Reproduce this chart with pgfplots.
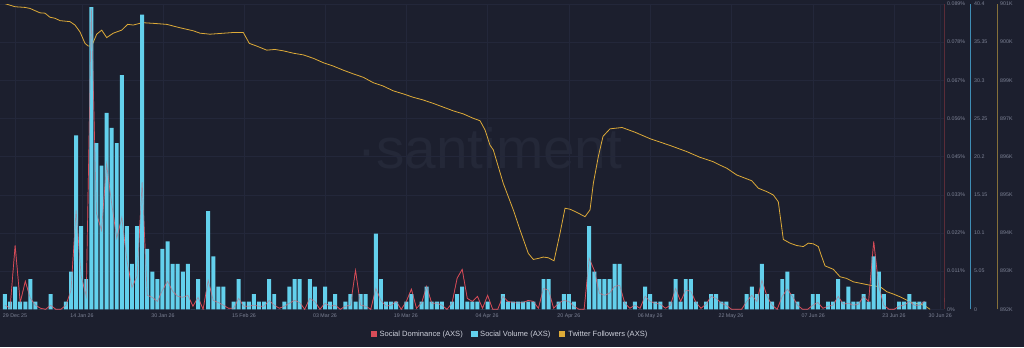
\documentclass[border=0pt]{standalone}
\usepackage{pgfplots}
\usepackage{pgfplotstable}
\pgfplotsset{compat=1.18}
\usepackage{fontspec}
\setmainfont{Liberation Sans}
\definecolor{bg}{HTML}{1C1F2E}
\definecolor{gridc}{HTML}{23273A}
\definecolor{volc}{HTML}{63D0EC}
\definecolor{domc}{HTML}{D84C58}
\definecolor{folc}{HTML}{DDAA38}
\definecolor{tickc}{HTML}{7D8295}
\definecolor{legc}{HTML}{CDD0DB}
\definecolor{wmc}{HTML}{242838}
\definecolor{domax}{HTML}{5A2C38}
\definecolor{volax}{HTML}{3F8DB5}
\definecolor{folax}{HTML}{85703A}
\newcommand{\tickfont}{\fontsize{5.3}{6}\selectfont}

\pgfplotstableread[row sep=\\]{x y\\
0 2\\1 1\\2 3\\3 1\\4 1\\5 4\\6 1\\7 0\\8 0\\9 2\\10 0\\11 0\\12 1\\13 5\\14 23\\15 11\\16 4\\17 40\\18 22\\19 19\\20 26\\21 24\\22 22\\23 31\\24 11\\25 6\\26 11\\27 39\\28 8\\29 5\\30 4\\31 8\\32 9\\33 6\\34 6\\35 5\\36 6\\37 0\\38 4\\39 0\\40 13\\41 7\\42 3\\43 3\\44 0\\45 1\\46 4\\47 1\\48 1\\49 2\\50 1\\51 1\\52 4\\53 2\\54 0\\55 1\\56 3\\57 4\\58 4\\59 0\\60 4\\61 3\\62 0\\63 3\\64 1\\65 2\\66 0\\67 1\\68 2\\69 1\\70 2\\71 2\\72 0\\73 10\\74 4\\75 1\\76 1\\77 1\\78 0\\79 1\\80 2\\81 0\\82 1\\83 3\\84 1\\85 1\\86 1\\87 0\\88 1\\89 2\\90 3\\91 1\\92 1\\93 1\\94 0\\95 1\\96 0\\97 0\\98 2\\99 1\\100 1\\101 1\\102 1\\103 1\\104 1\\105 0\\106 4\\107 4\\108 0\\109 1\\110 2\\111 2\\112 1\\113 0\\114 0\\115 11\\116 5\\117 4\\118 4\\119 4\\120 6\\121 6\\122 1\\123 0\\124 1\\125 0\\126 3\\127 2\\128 1\\129 1\\130 0\\131 1\\132 4\\133 1\\134 4\\135 4\\136 1\\137 0\\138 1\\139 2\\140 2\\141 1\\142 1\\143 0\\144 0\\145 0\\146 2\\147 3\\148 2\\149 6\\150 2\\151 1\\152 0\\153 4\\154 5\\155 2\\156 1\\157 0\\158 0\\159 2\\160 2\\161 0\\162 1\\163 1\\164 4\\165 1\\166 3\\167 1\\168 1\\169 2\\170 1\\171 7\\172 5\\173 2\\174 0\\175 0\\176 1\\177 1\\178 2\\179 1\\180 1\\181 1\\
}\voldata

\pgfplotstableread[row sep=\\]{x y\\
0 0.0012\\1 0.0003\\2 0.0187\\3 0.0020\\4 0.0082\\5 0.0032\\6 0.0012\\7 0.0003\\8 0\\9 0.0012\\10 0\\11 0\\12 0.0012\\13 0.0056\\14 0.0290\\15 0.0097\\16 0.0038\\17 0.0881\\18 0.0281\\19 0.0231\\20 0.0425\\21 0.0310\\22 0.0208\\23 0.0269\\24 0.0143\\25 0.0064\\26 0.0097\\27 0.0372\\28 0.0041\\29 0.0035\\30 0.0023\\31 0.0056\\32 0.0082\\33 0.0053\\34 0.0038\\35 0.0035\\36 0.0041\\37 0.0009\\38 0.0035\\39 0\\40 0.0085\\41 0.0026\\42 0.0020\\43 0.0012\\44 0.0003\\45 0.0003\\46 0.0032\\47 0.0009\\48 0.0009\\49 0.0012\\50 0.0009\\51 0.0009\\52 0.0026\\53 0.0012\\54 0.0003\\55 0.0009\\56 0.0018\\57 0.0026\\58 0.0020\\59 0\\60 0.0032\\61 0.0023\\62 0\\63 0.0018\\64 0.0009\\65 0.0012\\66 0\\67 0.0009\\68 0.0012\\69 0.0114\\70 0.0012\\71 0.0009\\72 0\\73 0.0061\\74 0.0026\\75 0.0009\\76 0.0012\\77 0.0023\\78 0\\79 0.0023\\80 0.0059\\81 0.0003\\82 0.0018\\83 0.0067\\84 0.0018\\85 0.0018\\86 0.0012\\87 0\\88 0.0018\\89 0.0091\\90 0.0117\\91 0.0032\\92 0.0023\\93 0.0038\\94 0.0003\\95 0.0041\\96 0\\97 0\\98 0.0038\\99 0.0023\\100 0.0020\\101 0.0018\\102 0.0020\\103 0.0026\\104 0.0023\\105 0.0003\\106 0.0061\\107 0.0056\\108 0.0003\\109 0.0018\\110 0.0026\\111 0.0023\\112 0.0009\\113 0\\114 0\\115 0.0149\\116 0.0114\\117 0.0047\\118 0.0041\\119 0.0047\\120 0.0067\\121 0.0070\\122 0.0018\\123 0.0003\\124 0.0012\\125 0.0003\\126 0.0038\\127 0.0023\\128 0.0018\\129 0.0015\\130 0.0003\\131 0.0012\\132 0.0061\\133 0.0023\\134 0.0056\\135 0.0053\\136 0.0020\\137 0.0003\\138 0.0015\\139 0.0038\\140 0.0032\\141 0.0018\\142 0.0012\\143 0\\144 0\\145 0\\146 0.0023\\147 0.0041\\148 0.0023\\149 0.0085\\150 0.0038\\151 0.0012\\152 0\\153 0.0038\\154 0.0059\\155 0.0038\\156 0.0012\\157 0\\158 0\\159 0.0012\\160 0.0020\\161 0.0003\\162 0.0009\\163 0.0012\\164 0.0038\\165 0.0015\\166 0.0018\\167 0.0012\\168 0.0015\\169 0.0038\\170 0.0023\\171 0.0199\\172 0.0067\\173 0.0012\\174 0\\175 0\\176 0.0009\\177 0.0012\\178 0.0023\\179 0.0012\\180 0.0012\\181 0.0023\\
}\domdata

\pgfplotstableread[row sep=\\]{x y\\
-0.2 901.02\\1.97 900.92\\3.94 900.90\\4.92 900.87\\6.89 900.74\\7.87 900.73\\8.86 900.61\\9.84 900.58\\10.83 900.51\\12.80 900.48\\13.78 900.38\\14.76 900.18\\15.75 899.84\\16.40 899.76\\17.07 899.76\\18.05 900.11\\19.04 900.23\\20.02 900.01\\21.32 900.14\\22.97 900.23\\24.15 900.40\\25.26 900.38\\27.03 900.45\\29.19 900.43\\31.83 900.40\\34.45 900.30\\37.07 900.21\\38.39 900.14\\40.35 900.11\\44.94 900.16\\46.91 900.16\\48.09 899.84\\49.55 899.76\\51.52 899.64\\53.15 899.66\\54.78 899.62\\56.75 899.55\\58.72 899.50\\60.69 899.40\\62.66 899.27\\64.63 899.17\\66.59 899.05\\68.56 898.94\\70.53 898.84\\72.50 898.68\\74.47 898.58\\76.44 898.44\\78.41 898.35\\80.37 898.25\\82.34 898.17\\84.31 898.07\\86.28 897.96\\88.25 897.85\\90.22 897.76\\92.19 897.63\\93.50 897.56\\94.49 897.29\\95.47 896.84\\96.12 896.70\\98.09 895.71\\100.06 894.93\\101.38 894.34\\103.01 893.65\\104.00 893.47\\104.98 893.50\\105.96 893.54\\106.95 893.52\\108.07 893.43\\109.25 894.24\\110.24 894.98\\111.22 894.95\\112.54 894.86\\114.17 894.73\\115.16 894.93\\115.81 895.71\\116.79 896.50\\117.72 897.10\\119.09 897.32\\121.46 897.36\\124.02 897.22\\126.97 897.03\\130.91 896.83\\134.19 896.65\\136.81 896.48\\139.43 896.35\\140.75 896.25\\142.07 896.16\\144.04 895.96\\146.99 895.79\\148.29 895.57\\149.94 895.47\\151.24 895.37\\152.22 895.17\\152.70 894.63\\153.21 894.06\\154.53 893.95\\155.85 893.88\\157.15 893.85\\158.13 893.95\\159.11 893.93\\160.10 893.85\\160.77 893.55\\161.42 893.28\\163.05 893.18\\164.37 892.96\\165.69 892.91\\166.99 892.81\\168.96 892.75\\170.93 892.69\\172.24 892.67\\173.56 892.52\\174.86 892.45\\176.18 892.37\\177.50 892.27\\178.80 892.18\\180.12 892.16\\181.10 892.10\\182.09 892.00\\
}\foldata

\begin{document}
\begin{tikzpicture}[x=1bp,y=1bp]
\fill[bg] (0,-37.7) rectangle (1024,309.3);
\node[anchor=base west, text=wmc, font=\fontsize{57}{57}\selectfont, inner sep=0] at (357,141.3) {·santiment};
\pgfplotsset{
  base/.style={at={(0bp,0bp)}, anchor=south west, width=944bp, height=305.3bp, scale only axis, xmin=-0.98, xmax=184.84},
  scl/.style={anchor=south west, width=1bp, height=305.3bp, scale only axis, xmin=0, xmax=1,
    axis x line=none, axis y line=right, major tick length=0pt, scaled y ticks=false,
    every outer y axis line/.append style={-}, every inner y axis line/.append style={-},
    yticklabel style={font=\tickfont, text=tickc, anchor=west, inner sep=1bp}},
}
% grid, x labels, legend, followers line
\begin{axis}[base, ymin=892, ymax=901,
  axis line style={draw=none}, major tick length=0pt, scaled y ticks=false,
  xtick={1.97,15.16,31.1,47.05,63.0,78.9,94.9,111.0,127.0,142.9,159.1,175.0,184.1},
  xticklabels={29 Dec 25,14 Jan 26,30 Jan 26,15 Feb 26,03 Mar 26,19 Mar 26,04 Apr 26,20 Apr 26,06 May 26,22 May 26,07 Jun 26,23 Jun 26,30 Jun 26},
  xticklabel style={font=\tickfont, text=tickc, inner sep=1bp, yshift=-3bp},
  ytick={892,893.125,894.25,895.375,896.5,897.625,898.75,899.875,901}, yticklabels={},
  grid=major, major grid style={gridc, line width=0.5bp},
  legend style={at={(0.5400,-0.081)}, anchor=center, draw=none, fill=none, text=legc,
    font=\fontsize{7.6}{9}\selectfont, legend columns=3,
    /tikz/every even column/.append style={column sep=7bp}, nodes={inner sep=1.5bp}},
  legend cell align=left,
  legend image code/.code={\fill[#1] (0bp,-2.6bp) rectangle (5.2bp,2.6bp); \path (7bp,0bp);},
]
\addlegendimage{domc}\addlegendentry{Social Dominance (AXS)}
\addlegendimage{volc}\addlegendentry{Social Volume (AXS)}
\addplot[folc, line width=0.8bp] table {\foldata};
\addlegendentry{Twitter Followers (AXS)}
\end{axis}
% social dominance (under bars)
\begin{axis}[base, ymin=0, ymax=0.0894, hide axis]
\addplot[domc, line width=0.7bp] table {\domdata};
\end{axis}
% social volume bars
\begin{axis}[base, ymin=0, ymax=40.4, hide axis, ybar, bar width=0.78]
\addplot[fill=volc, draw=none] table {\voldata};
\end{axis}
% social dominance (over bars, faint)
\begin{axis}[base, ymin=0, ymax=0.0894, hide axis]
\addplot[domc, line width=0.7bp, opacity=0.45] table {\domdata};
\end{axis}
% right scales
\begin{axis}[scl, at={(943bp,0bp)}, ymin=0, ymax=0.0894,
  axis line style={-, draw=domax, line width=0.8bp},
  ytick={0,0.011175,0.02235,0.033525,0.0447,0.055875,0.06705,0.078225,0.0894},
  yticklabels={0\%,0.011\%,0.022\%,0.033\%,0.045\%,0.056\%,0.067\%,0.078\%,0.089\%},
  yticklabel style={xshift=2bp}]
\node[anchor=west, fill={rgb,255:red,227;green,93;blue,102}, text=white, font=\tickfont, inner sep=1bp, rounded corners=0.8bp] at (axis cs:1,0.0027) {0.002\%};
\end{axis}
\begin{axis}[scl, at={(969.7bp,0bp)}, ymin=0, ymax=40.4,
  axis line style={-, draw=volax, line width=0.8bp},
  ytick={0,5.05,10.1,15.15,20.2,25.25,30.3,35.35,40.4},
  yticklabels={0,5.05,10.1,15.15,20.2,25.25,30.3,35.35,40.4},
  yticklabel style={xshift=2.3bp}]
\node[anchor=west, fill={rgb,255:red,95;green,201;blue,234}, text=bg, font=\tickfont, inner sep=1bp, xshift=0.5bp] at (axis cs:1,1) {1};
\end{axis}
\begin{axis}[scl, at={(996.7bp,0bp)}, ymin=892, ymax=901,
  axis line style={-, draw=folax, line width=0.8bp},
  ytick={892,893.125,894.25,895.375,896.5,897.625,898.75,899.875,901},
  yticklabels={892K,893K,894K,895K,896K,897K,899K,900K,901K},
  yticklabel style={xshift=1.3bp}]
\node[anchor=west, fill={rgb,255:red,244;green,196;blue,67}, text=bg, font=\tickfont, inner sep=1bp, xshift=0.5bp] at (axis cs:1,892.03) {892K};
\end{axis}
\pgfresetboundingbox
\path[use as bounding box] (0,-37.7) rectangle (1024,309.3);
\end{tikzpicture}
\end{document}
